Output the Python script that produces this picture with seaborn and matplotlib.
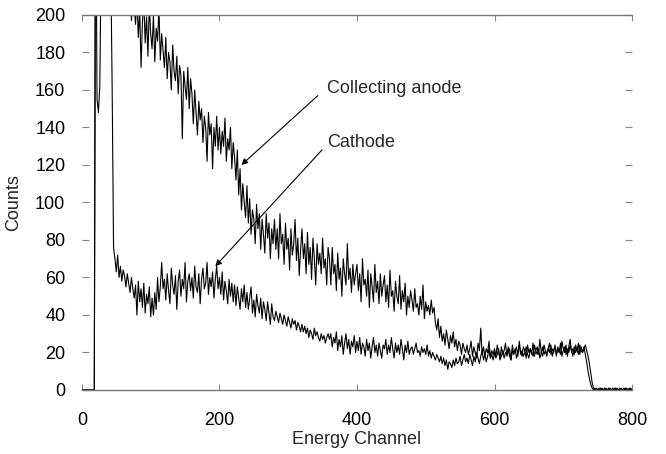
import numpy as np
import pandas as pd
import matplotlib
matplotlib.use("Agg")
import matplotlib.pyplot as plt
import seaborn as sns

# Energy channels 0..800 sampled every 2 channels (401 points)
channels = list(range(0, 801, 2))

anode_counts = [
    0, 0, 0, 0, 0, 0, 0, 0, 0, 0, 330, 310, 300, 305, 295, 300, 290, 295, 285, 290,
    280, 285, 275, 270, 272, 265, 268, 260, 255, 258, 250, 245, 248, 240, 235, 215, 197, 212, 205, 195,
    210, 188, 203, 172, 196, 208, 185, 199, 178, 205, 190, 182, 200, 175, 193, 186, 204, 176, 190, 181,
    172, 188, 166, 180, 175, 160, 184, 170, 165, 178, 158, 173, 168, 134, 170, 162, 155, 172, 150, 166,
    158, 142, 160, 148, 136, 154, 144, 150, 132, 146, 140, 122, 148, 136, 142, 118, 140, 130, 146, 128,
    140, 126, 138, 130, 145, 122, 134, 128, 140, 118, 132, 124, 112, 128, 104, 118, 96, 110, 100, 92,
    109, 89, 102, 83, 96, 91, 78, 99, 86, 94, 75, 91, 83, 73, 94, 81, 89, 70, 86, 78,
    91, 75, 86, 70, 94, 78, 83, 67, 89, 75, 81, 64, 86, 72, 78, 91, 69, 81, 61, 75,
    86, 70, 78, 62, 84, 67, 76, 59, 81, 70, 56, 78, 67, 73, 62, 81, 65, 70, 56, 76,
    70, 56, 76, 62, 67, 53, 73, 59, 65, 50, 70, 62, 56, 78, 59, 65, 52, 67, 56, 62,
    67, 53, 62, 47, 70, 56, 59, 50, 64, 44, 62, 55, 47, 67, 52, 58, 46, 62, 50, 56,
    61, 47, 56, 44, 64, 50, 53, 42, 58, 50, 46, 61, 43, 53, 47, 57, 40, 50, 44, 53,
    48, 42, 54, 44, 46, 40, 50, 43, 56, 38, 47, 42, 45, 40, 48, 41, 44, 36, 32, 38,
    28, 34, 26, 30, 24, 32, 27, 22, 29, 25, 31, 23, 27, 21, 26, 24, 19, 25, 22, 20,
    24, 19, 22, 26, 18, 23, 20, 17, 25, 21, 33, 19, 23, 18, 22, 20, 26, 17, 21, 19,
    22, 18, 24, 20, 17, 23, 19, 21, 25, 18, 20, 22, 16, 24, 19, 21, 23, 18, 26, 20,
    18, 23, 21, 17, 24, 20, 22, 19, 25, 18, 21, 23, 19, 27, 20, 18, 24, 21, 19, 22,
    25, 19, 22, 20, 24, 18, 23, 21, 19, 26, 22, 20, 24, 18, 23, 27, 20, 22, 19, 24,
    21, 25, 19, 23, 20, 22, 24, 21, 18, 14, 9, 4, 1, 0, 1, 0, 0, 1, 0, 0,
    1, 0, 0, 1, 0, 0, 1, 0, 1, 0, 0, 1, 0, 0, 1, 0, 1, 0, 0, 1,
    0,
]

cathode_counts = [
    0, 0, 0, 0, 0, 0, 0, 0, 0, 0, 280, 155, 148, 162, 230, 240, 250, 245, 255, 250,
    240, 225, 160, 76, 70, 63, 72, 60, 66, 58, 64, 61, 55, 62, 57, 52, 60, 54, 49, 56,
    40, 58, 47, 54, 44, 57, 41, 51, 46, 55, 39, 49, 40, 52, 43, 60, 47, 55, 68, 54,
    59, 48, 62, 53, 46, 65, 56, 51, 61, 43, 58, 64, 50, 59, 54, 68, 47, 58, 62, 53,
    60, 49, 66, 55, 52, 62, 46, 59, 65, 54, 57, 68, 51, 60, 55, 63, 49, 59, 66, 54,
    60, 51, 63, 48, 58, 53, 46, 59, 50, 57, 47, 56, 45, 55, 49, 43, 54, 47, 56, 44,
    52, 43, 49, 55, 41, 48, 39, 51, 45, 41, 49, 38, 47, 43, 37, 47, 41, 35, 46, 39,
    37, 42, 39, 36, 41, 38, 35, 40, 37, 34, 39, 36, 33, 38, 35, 37, 32, 36, 34, 31,
    35, 31, 34, 30, 33, 28, 32, 30, 27, 33, 29, 31, 28, 26, 30, 27, 29, 25, 28, 30,
    27, 30, 23, 28, 25, 31, 21, 27, 23, 29, 19, 25, 30, 22, 27, 19, 26, 23, 29, 20,
    26, 21, 28, 19, 25, 23, 18, 27, 21, 25, 17, 23, 28, 20, 24, 18, 25, 21, 17, 24,
    22, 27, 19, 24, 20, 28, 22, 17, 25, 20, 24, 19, 27, 22, 16, 24, 20, 26, 19, 22,
    23, 19, 22, 25, 20, 21, 18, 23, 20, 22, 19, 24, 18, 21, 17, 20, 18, 16, 19, 17,
    15, 18, 14, 17, 13, 16, 11, 15, 14, 12, 16, 13, 17, 14, 15, 18, 13, 16, 19, 15,
    17, 14, 19, 16, 13, 18, 15, 20, 17, 14, 18, 21, 16, 19, 15, 18, 22, 17, 19, 16,
    20, 17, 19, 22, 16, 18, 21, 17, 20, 19, 23, 18, 16, 21, 19, 22, 17, 20, 24, 19,
    21, 18, 20, 23, 19, 17, 22, 20, 18, 24, 21, 19, 22, 17, 20, 23, 19, 21, 18, 22,
    20, 24, 18, 21, 23, 19, 22, 20, 25, 18, 21, 23, 19, 22, 20, 24, 21, 18, 23, 20,
    22, 19, 24, 21, 20, 23, 19, 15, 10, 6, 3, 1, 0, 1, 0, 0, 1, 0, 1, 0,
    0, 1, 0, 0, 1, 0, 0, 1, 0, 1, 0, 0, 1, 0, 0, 1, 0, 0, 1, 0,
    0,
]

x_ticks = [0, 200, 400, 600, 800]
y_ticks = [0, 20, 40, 60, 80, 100, 120, 140, 160, 180, 200]

df = pd.DataFrame({
    "Energy Channel": channels + channels,
    "Counts": anode_counts + cathode_counts,
    "Electrode": ["Collecting anode"] * len(channels) + ["Cathode"] * len(channels),
})

sns.set_style("white")
plt.rcParams["font.family"] = ["Liberation Sans", "DejaVu Sans"]

fig = plt.figure(figsize=(6.66, 4.54), dpi=100)
ax = fig.add_axes([0.123, 0.141, 0.826, 0.826])

sns.lineplot(data=df, x="Energy Channel", y="Counts", hue="Electrode",
             palette=["black", "black"], linewidth=0.8, legend=False,
             estimator=None, ax=ax)

ax.set_xlim(0, 800)
ax.set_ylim(0, 200)
ax.set_xticks(x_ticks)
ax.set_yticks(y_ticks)
ax.tick_params(axis="both", which="both", direction="in", colors="#888888",
               labelcolor="black", labelsize=13, top=True, right=True,
               left=True, bottom=True)
ax.tick_params(axis="y", length=5, pad=12)
ax.tick_params(axis="x", length=4, pad=16)

for side in ["left", "right"]:
    ax.spines[side].set_visible(False)
for side in ["top", "bottom"]:
    ax.spines[side].set_visible(True)
    ax.spines[side].set_color("#777777")
    ax.spines[side].set_linewidth(1.0)

ax.set_xlabel("Energy Channel", fontsize=13, labelpad=1)
ax.set_ylabel("Counts", fontsize=13, labelpad=9)

arrow_kw = dict(arrowstyle="-|>", color="black", lw=0.8, mutation_scale=9,
                shrinkA=0, shrinkB=0)
ax.annotate("", xy=(232, 120), xytext=(343, 157), arrowprops=arrow_kw)
ax.annotate("", xy=(194, 66), xytext=(349, 128), arrowprops=arrow_kw)
ax.text(356, 161, "Collecting anode", fontsize=13, ha="left", va="center")
ax.text(356, 132, "Cathode", fontsize=13, ha="left", va="center")

fig.savefig("out.png", dpi=100)
